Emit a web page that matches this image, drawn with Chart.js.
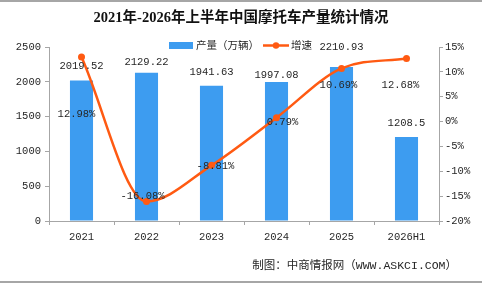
<!DOCTYPE html>
<html><head><meta charset="utf-8">
<script src="https://cdn.jsdelivr.net/npm/chart.js@4.4.1/dist/chart.umd.min.js"></script>
<style>html,body{margin:0;padding:0;background:#fff;overflow:hidden}canvas{display:block}</style>
</head><body>
<canvas id="c" width="482" height="284"></canvas>
<script>
const titleText = '2021年-2026年上半年中国摩托车产量统计情况';
const sourceText = '制图：中商情报网（WWW.ASKCI.COM）';
const categories = ['2021', '2022', '2023', '2024', '2025', '2026H1'];
const outputValues = [2019.52, 2129.22, 1941.63, 1997.08, 2210.93, 1208.5];
const growthValues = [12.98, -16.08, -8.81, 0.79, 10.69, 12.68];
const outputLabel = '产量（万辆）';
const growthLabel = '增速';
const leftTicks = [0, 500, 1000, 1500, 2000, 2500];
const rightTicks = [-20, -15, -10, -5, 0, 5, 10, 15];

const MONO = '"Liberation Mono", "DejaVu Sans Mono", monospace';
const CJK = '"Noto Sans CJK SC", sans-serif';
const BAR_COLOR = '#3d9cf0';
const LINE_COLOR = '#ff5a12';
const AXIS_COLOR = '#a6a6a6';
const TEXT_COLOR = '#262626';

// label placement tweaks (pixels, relative to the library-computed anchor)
const barLabelDy = [-14, -11, -14, -7, -20, -14];
const lineLabelShift = [[-5, 57], [-4, -5], [4, 1], [6, 5], [-3, 17], [-6, 27]];

const decor = {
  id: 'decor',
  beforeDraw(chart) {
    const ctx = chart.ctx;
    ctx.save();
    ctx.fillStyle = '#fff';
    ctx.fillRect(0, 0, chart.width, chart.height);
    ctx.strokeStyle = AXIS_COLOR;
    ctx.lineWidth = 2;
    ctx.beginPath();
    ctx.moveTo(0, 1); ctx.lineTo(chart.width, 1);
    ctx.moveTo(0, 282); ctx.lineTo(chart.width, 282);
    ctx.stroke();
    ctx.fillStyle = '#111';
    ctx.font = 'bold 14.5px "Liberation Serif", ' + CJK;
    ctx.textAlign = 'center';
    ctx.textBaseline = 'middle';
    ctx.fillText(titleText, chart.width / 2, 18);
    ctx.fillStyle = TEXT_COLOR;
    ctx.font = '11.5px ' + MONO + ', ' + CJK;
    ctx.textAlign = 'right';
    ctx.fillText(sourceText, 457, 266);
    ctx.restore();
  },
  afterDatasetsDraw(chart) {
    const ctx = chart.ctx;
    ctx.save();
    ctx.fillStyle = TEXT_COLOR;
    ctx.font = '10.5px ' + MONO;
    ctx.textAlign = 'center';
    ctx.textBaseline = 'middle';
    const barMeta = chart.getDatasetMeta(0);
    barMeta.data.forEach((el, i) => {
      ctx.fillText(String(outputValues[i]), el.x, el.y + barLabelDy[i]);
    });
    const lineMeta = chart.getDatasetMeta(1);
    lineMeta.data.forEach((el, i) => {
      const s = lineLabelShift[i];
      ctx.fillText(growthValues[i].toFixed(2) + '%', el.x + s[0], el.y + s[1]);
    });
    // legend
    const ly = 45.5;
    ctx.fillStyle = BAR_COLOR;
    ctx.fillRect(169, ly - 3.5, 24, 7);
    ctx.fillStyle = TEXT_COLOR;
    ctx.font = '10.5px ' + CJK;
    ctx.textAlign = 'left';
    ctx.fillText(chart.data.datasets[0].label, 196, ly);
    ctx.strokeStyle = LINE_COLOR;
    ctx.lineWidth = 2.5;
    ctx.beginPath(); ctx.moveTo(263, ly); ctx.lineTo(289, ly); ctx.stroke();
    ctx.fillStyle = LINE_COLOR;
    ctx.beginPath(); ctx.arc(276, ly, 3.2, 0, Math.PI * 2); ctx.fill();
    ctx.fillStyle = TEXT_COLOR;
    ctx.fillText(chart.data.datasets[1].label, 291, ly);
    ctx.restore();
  }
};

new Chart(document.getElementById('c'), {
  data: {
    labels: categories,
    datasets: [
      {
        type: 'bar', label: outputLabel, data: outputValues, yAxisID: 'y',
        backgroundColor: BAR_COLOR, borderWidth: 0,
        categoryPercentage: 1, barPercentage: 0.355, order: 2
      },
      {
        type: 'line', label: growthLabel, data: growthValues, yAxisID: 'y1',
        borderColor: LINE_COLOR, backgroundColor: LINE_COLOR, borderWidth: 2.5,
        cubicInterpolationMode: 'monotone', pointRadius: 3.5, pointHoverRadius: 3.5,
        pointBackgroundColor: LINE_COLOR, pointBorderWidth: 0, order: 1, clip: false
      }
    ]
  },
  options: {
    responsive: false,
    animation: false,
    devicePixelRatio: 1,
    layout: { padding: { top: 47, left: 0, right: 0, bottom: 0 } },
    plugins: { legend: { display: false }, title: { display: false }, tooltip: { enabled: false } },
    scales: {
      x: {
        offset: true,
        grid: { offset: true, drawOnChartArea: false, drawTicks: true, tickLength: 4, color: AXIS_COLOR },
        border: { color: AXIS_COLOR, width: 1 },
        ticks: { color: TEXT_COLOR, font: { family: MONO, size: 10.5 }, padding: 6, maxRotation: 0 },
        afterFit(s) { s.height = 63; }
      },
      y: {
        position: 'left',
        min: leftTicks[0], max: leftTicks[leftTicks.length - 1],
        afterBuildTicks(s) { s.ticks = leftTicks.map(v => ({ value: v })); },
        grid: { drawOnChartArea: false, drawTicks: true, tickLength: 4, color: AXIS_COLOR },
        border: { color: AXIS_COLOR, width: 1 },
        ticks: { color: TEXT_COLOR, font: { family: MONO, size: 10.5 }, padding: 4, callback: v => String(v) },
        afterFit(s) { s.width = 49; }
      },
      y1: {
        position: 'right',
        min: rightTicks[0], max: rightTicks[rightTicks.length - 1],
        afterBuildTicks(s) { s.ticks = rightTicks.map(v => ({ value: v })); },
        grid: { drawOnChartArea: false, drawTicks: true, tickLength: 4, color: AXIS_COLOR },
        border: { color: AXIS_COLOR, width: 1 },
        ticks: { color: TEXT_COLOR, font: { family: MONO, size: 10.5 }, padding: 2, callback: v => v + '%' },
        afterFit(s) { s.width = 43; }
      }
    }
  },
  plugins: [decor]
});
</script>
</body></html>
